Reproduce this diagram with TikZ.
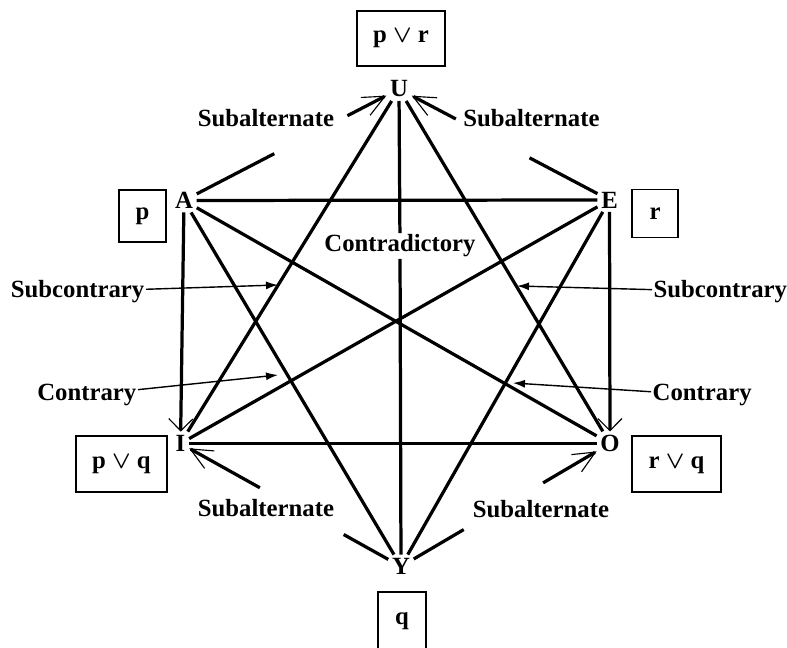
\documentclass[tikz,border=0pt]{standalone}
\usepackage{fontspec}
\setmainfont{Liberation Serif}
\usetikzlibrary{arrows.meta,calc}
\tikzset{
  vertex/.style={font=\bfseries\fontsize{17.6}{20}\selectfont, inner sep=2.5pt},
  relname/.style={font=\bfseries\fontsize{17.6}{20}\selectfont, inner sep=1pt},
  formula/.style={rectangle, draw=black, line width=1.2pt, inner sep=0pt, align=center, font=\bfseries\boldmath\fontsize{17.6}{20}\selectfont},
  edge/.style={line width=2.3pt},
  subalt/.style={edge, -{Straight Barb[length=5.5mm, width=5mm, line width=0.8pt]}},
  implies/.style={edge, -{Straight Barb[length=3mm, width=6mm, line width=0.8pt]}},
  pointer/.style={line width=1pt, -{Latex[length=3mm, width=2mm]}},
}
\begin{document}
\begin{tikzpicture}
  \useasboundingbox (0,0) rectangle (19.675,16.2);
  % corners of the hexagon
  \node[vertex] (U) at (9.975,13.975) {U};
  \node[vertex] (A) at (4.6,11.1875) {A};
  \node[vertex] (E) at (15.2375,11.2) {E};
  \node[vertex] (I) at (4.5125,5.1125) {I};
  \node[vertex] (O) at (15.25,5.1125) {O};
  \node[vertex] (Y) at (10.025,2.0375) {Y};
  % formulas
  \node[formula, minimum width=2.2cm, minimum height=1.375cm] (pr) at (10.025,15.2375) {p $\vee$ r};
  \node[formula, minimum width=1.175cm, minimum height=1.3cm] (p) at (3.5625,10.8) {p};
  \node[formula, minimum width=1.15cm, minimum height=1.2cm] (r) at (16.375,10.8625) {r};
  \node[formula, minimum width=2.275cm, minimum height=1.4cm] (pq) at (3.0375,4.6) {p $\vee$ q};
  \node[formula, minimum width=2.225cm, minimum height=1.4cm] (rq) at (16.9125,4.6) {r $\vee$ q};
  \node[formula, minimum width=1.2cm, minimum height=1.45cm] (q) at (10.05,0.675) {q};
  % relation names
  \node[relname] (contra) at (10.0,10.05) {Contradictory};
  \node[relname] (subTL) at (6.65,13.2375) {Subalternate};
  \node[relname] (subTR) at (13.2875,13.2375) {Subalternate};
  \node[relname] (subBL) at (6.65,3.4875) {Subalternate};
  \node[relname] (subBR) at (13.525,3.475) {Subalternate};
  \node[relname, anchor=east] (subcL) at (3.65,8.9125) {Subcontrary};
  \node[relname, anchor=east] (conL) at (3.45,6.325) {Contrary};
  \node[relname, anchor=west] (subcR) at (16.3,8.9125) {Subcontrary};
  \node[relname, anchor=west] (conR) at (16.275,6.325) {Contrary};
  % where the pointers end
  \coordinate (tSL) at (6.95,9.075);
  \coordinate (tCL) at (6.95,6.825);
  \coordinate (tSR) at (12.925,9.05);
  \coordinate (tCR) at (12.825,6.625);
  % the hexagon
  \draw[edge] (A) -- (E);
  \draw[edge] (I) -- (O);
  \draw[edge] (A) -- (O);
  \draw[edge] (E) -- (I);
  \draw[edge] (U) -- (I);
  \draw[edge] (U) -- (O);
  \draw[edge] (A) -- (Y);
  \draw[edge] (E) -- (Y);
  \draw[edge] (U) -- (contra) -- (Y);
  \draw[implies] (A) -- (I);
  \draw[implies] (E) -- (O);
  % subalternation, broken where the names stand
  \draw[edge] (A) -- ($(A)!0.42!(U)$);
  \draw[subalt] ($(A)!0.76!(U)$) -- (U);
  \draw[edge] (E) -- ($(E)!0.38!(U)$);
  \draw[subalt] ($(E)!0.73!(U)$) -- (U);
  \draw[edge] (Y) -- ($(Y)!0.26!(I)$);
  \draw[subalt] ($(Y)!0.64!(I)$) -- (I);
  \draw[edge] (Y) -- ($(Y)!0.30!(O)$);
  \draw[subalt] ($(Y)!0.68!(O)$) -- (O);
  % pointers
  \draw[pointer] (subcL) -- (tSL);
  \draw[pointer] (conL) -- (tCL);
  \draw[pointer] (subcR) -- (tSR);
  \draw[pointer] (conR) -- (tCR);
\end{tikzpicture}
\end{document}
